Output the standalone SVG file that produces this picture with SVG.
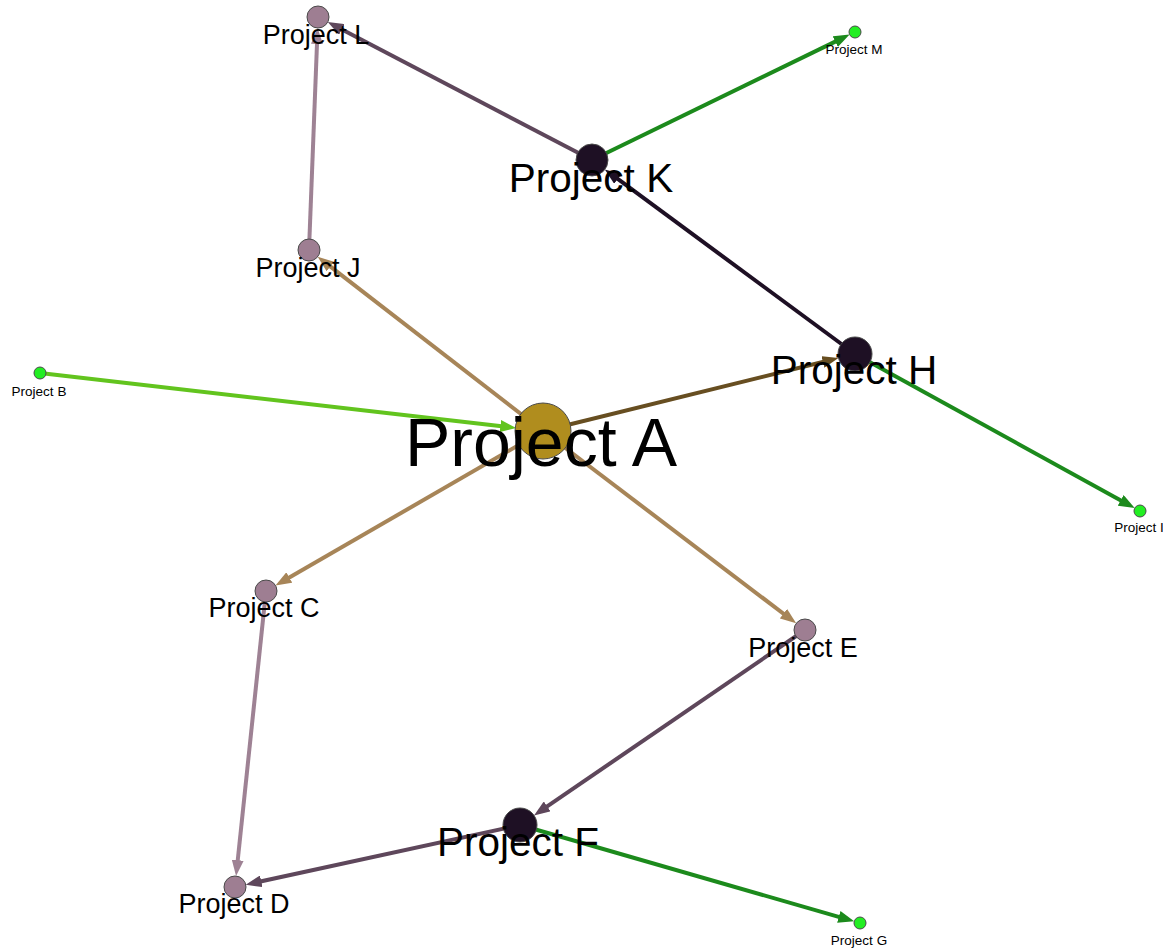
<svg xmlns="http://www.w3.org/2000/svg" width="1163" height="950" viewBox="0 0 1163 950">
<style>
.e{fill:none;stroke-width:4}
.n{stroke:#4a4a4a;stroke-width:1}
.t{font-family:"Liberation Sans",Arial,sans-serif;text-anchor:middle;fill:#000}
</style>
<defs>
<marker id="m-tan" markerUnits="userSpaceOnUse" markerWidth="16" markerHeight="12" refX="8" refY="6" orient="auto"><path d="M0,0L16,6L0,12z" fill="#A78558"/></marker>
<marker id="m-lg" markerUnits="userSpaceOnUse" markerWidth="16" markerHeight="12" refX="8" refY="6" orient="auto"><path d="M0,0L16,6L0,12z" fill="#62C41E"/></marker>
<marker id="m-g" markerUnits="userSpaceOnUse" markerWidth="16" markerHeight="12" refX="8" refY="6" orient="auto"><path d="M0,0L16,6L0,12z" fill="#1C8A1C"/></marker>
<marker id="m-br" markerUnits="userSpaceOnUse" markerWidth="16" markerHeight="12" refX="8" refY="6" orient="auto"><path d="M0,0L16,6L0,12z" fill="#674E21"/></marker>
<marker id="m-dm" markerUnits="userSpaceOnUse" markerWidth="16" markerHeight="12" refX="8" refY="6" orient="auto"><path d="M0,0L16,6L0,12z" fill="#5E475B"/></marker>
<marker id="m-m" markerUnits="userSpaceOnUse" markerWidth="16" markerHeight="12" refX="8" refY="6" orient="auto"><path d="M0,0L16,6L0,12z" fill="#9E8294"/></marker>
<marker id="m-d" markerUnits="userSpaceOnUse" markerWidth="16" markerHeight="12" refX="8" refY="6" orient="auto"><path d="M0,0L16,6L0,12z" fill="#1E1024"/></marker>
</defs>
<g id="connectors">
<line class="e" x1="592" y1="160" x2="334.8" y2="25.8" stroke="#5E475B" marker-end="url(#m-dm)"/>
<line class="e" x1="309" y1="250" x2="317.3" y2="36" stroke="#9E8294" marker-end="url(#m-m)"/>
<line class="e" x1="543" y1="431" x2="324" y2="261.6" stroke="#A78558" marker-end="url(#m-tan)"/>
<line class="e" x1="40" y1="373" x2="508.3" y2="427" stroke="#62C41E" marker-end="url(#m-lg)"/>
<line class="e" x1="543" y1="431" x2="830.7" y2="360" stroke="#674E21" marker-end="url(#m-br)"/>
<line class="e" x1="592" y1="160" x2="842.4" y2="38.1" stroke="#1C8A1C" marker-end="url(#m-g)"/>
<line class="e" x1="855" y1="354" x2="611.3" y2="174.2" stroke="#1E1024" marker-end="url(#m-d)"/>
<line class="e" x1="855" y1="354" x2="1127.7" y2="504.2" stroke="#1C8A1C" marker-end="url(#m-g)"/>
<line class="e" x1="543" y1="431" x2="282.4" y2="581.5" stroke="#A78558" marker-end="url(#m-tan)"/>
<line class="e" x1="543" y1="431" x2="789.8" y2="618.5" stroke="#A78558" marker-end="url(#m-tan)"/>
<line class="e" x1="805" y1="630" x2="540.6" y2="810.9" stroke="#5E475B" marker-end="url(#m-dm)"/>
<line class="e" x1="520" y1="825" x2="253.5" y2="883" stroke="#5E475B" marker-end="url(#m-dm)"/>
<line class="e" x1="266" y1="591" x2="236.9" y2="868.1" stroke="#9E8294" marker-end="url(#m-m)"/>
<line class="e" x1="520" y1="825" x2="846.5" y2="919.1" stroke="#1C8A1C" marker-end="url(#m-g)"/>
</g>
<g id="node-A"><circle class="n" cx="543" cy="431" r="28" fill="#B08D1E"/><text class="t" x="541" y="466" font-size="68">Project A</text></g>
<g id="node-K"><circle class="n" cx="592" cy="160" r="16" fill="#1E1024"/><text class="t" x="591" y="192" font-size="40.5">Project K</text></g>
<g id="node-H"><circle class="n" cx="855" cy="354" r="17" fill="#1E1024"/><text class="t" x="854" y="384" font-size="40.5">Project H</text></g>
<g id="node-F"><circle class="n" cx="520" cy="825" r="17" fill="#1E1024"/><text class="t" x="518" y="856" font-size="40.5">Project F</text></g>
<g id="node-L"><circle class="n" cx="318" cy="17" r="11" fill="#9E7E92"/><text class="t" x="316" y="44" font-size="27">Project L</text></g>
<g id="node-J"><circle class="n" cx="309" cy="250" r="11" fill="#9E7E92"/><text class="t" x="308" y="277" font-size="27">Project J</text></g>
<g id="node-C"><circle class="n" cx="266" cy="591" r="11" fill="#9E7E92"/><text class="t" x="264" y="617" font-size="27">Project C</text></g>
<g id="node-E"><circle class="n" cx="805" cy="630" r="11" fill="#9E7E92"/><text class="t" x="803" y="657" font-size="27">Project E</text></g>
<g id="node-D"><circle class="n" cx="235" cy="887" r="11" fill="#9E7E92"/><text class="t" x="234" y="913" font-size="27">Project D</text></g>
<g id="node-B"><circle class="n" cx="40" cy="373" r="6" fill="#22EE22"/><text class="t" x="39" y="396" font-size="13.5">Project B</text></g>
<g id="node-M"><circle class="n" cx="855" cy="32" r="6" fill="#22EE22"/><text class="t" x="854" y="54" font-size="13.5">Project M</text></g>
<g id="node-I"><circle class="n" cx="1140" cy="511" r="6" fill="#22EE22"/><text class="t" x="1139" y="532" font-size="13.5">Project I</text></g>
<g id="node-G"><circle class="n" cx="860" cy="923" r="6" fill="#22EE22"/><text class="t" x="859" y="945" font-size="13.5">Project G</text></g>
</svg>
